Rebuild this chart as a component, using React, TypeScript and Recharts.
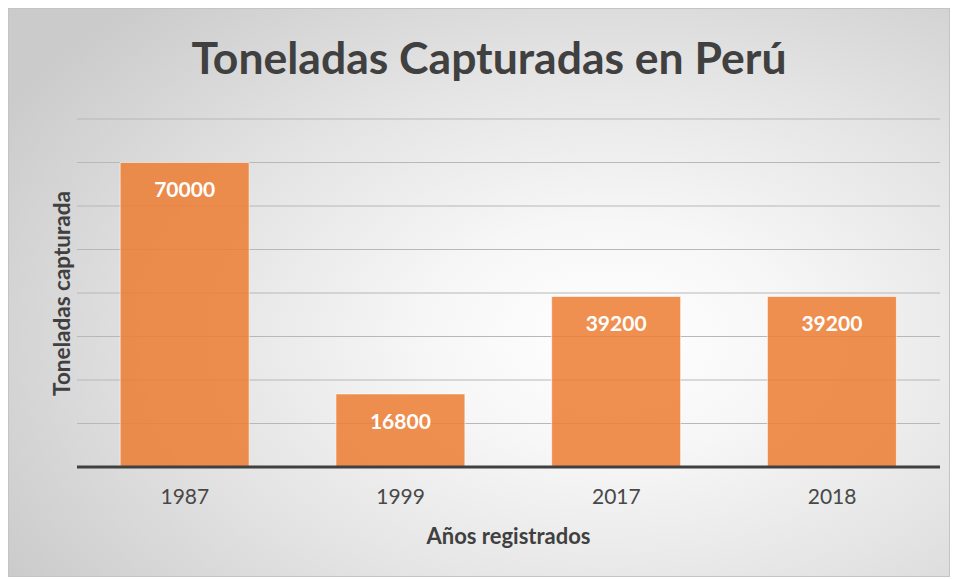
import React from 'react';
import { BarChart, Bar, XAxis, YAxis, CartesianGrid, LabelList } from 'recharts';

const years = ['1987', '1999', '2017', '2018'];
const toneladas = [70000, 16800, 39200, 39200];
const yTicks = [0, 10000, 20000, 30000, 40000, 50000, 60000, 70000, 80000];

const data = years.map((year, i) => ({ year, value: toneladas[i] }));

const FONT = 'Lato, "Open Sans", sans-serif';

export default function App() {
  return (
    <div
      style={{
        position: 'relative',
        width: 942,
        height: 569,
        border: '1px solid #c4c4c4',
        boxSizing: 'border-box',
        background:
          'radial-gradient(ellipse 75% 80% at 64% 58%, #ffffff 0%, #f7f7f7 25%, #e4e4e4 60%, #cbcbcb 100%)',
        fontFamily: FONT,
      }}
    >
      <div
        style={{
          position: 'absolute',
          top: 21,
          left: 20,
          width: 920,
          textAlign: 'center',
          fontSize: 44.5,
          fontWeight: 700,
          color: '#404040',
        }}
      >
        Toneladas Capturadas en Perú
      </div>

      <div
        style={{
          position: 'absolute',
          left: 52 - 150,
          top: 285 - 14,
          width: 300,
          textAlign: 'center',
          transform: 'rotate(-90deg)',
          fontSize: 22.5,
          fontWeight: 700,
          color: '#404040',
        }}
      >
        Toneladas capturada
      </div>

      <div
        style={{
          position: 'absolute',
          left: 0,
          top: 513,
          width: 999,
          textAlign: 'center',
          fontSize: 22,
          fontWeight: 700,
          color: '#404040',
        }}
      >
        Años registrados
      </div>

      <BarChart
        width={940}
        height={567}
        data={data}
        margin={{ top: 110, right: 9, left: 68, bottom: 69 }}
        barCategoryGap="20%"
        style={{ position: 'absolute', top: 0, left: 0 }}
      >
        <CartesianGrid vertical={false} stroke="#b8b8b8" strokeWidth={1.2} />
        <YAxis
          domain={[0, 80000]}
          ticks={yTicks}
          width={0}
          tick={() => <g />}
          axisLine={false}
          tickLine={false}
        />
        <XAxis
          dataKey="year"
          height={40}
          axisLine={{ stroke: '#404040', strokeWidth: 3 }}
          tickLine={false}
          tick={{ fill: '#484848', fontSize: 21, fontFamily: FONT }}
          dy={14}
        />
        <Bar
          dataKey="value"
          fill="#ED7D31"
          fillOpacity={0.85}
          stroke="#ffffff"
          strokeOpacity={0.6}
          strokeWidth={1}
          isAnimationActive={false}
        >
          <LabelList
            dataKey="value"
            position="insideTop"
            offset={20}
            fill="#ffffff"
            fontSize={21}
            fontWeight={700}
            fontFamily={FONT}
          />
        </Bar>
      </BarChart>
    </div>
  );
}
